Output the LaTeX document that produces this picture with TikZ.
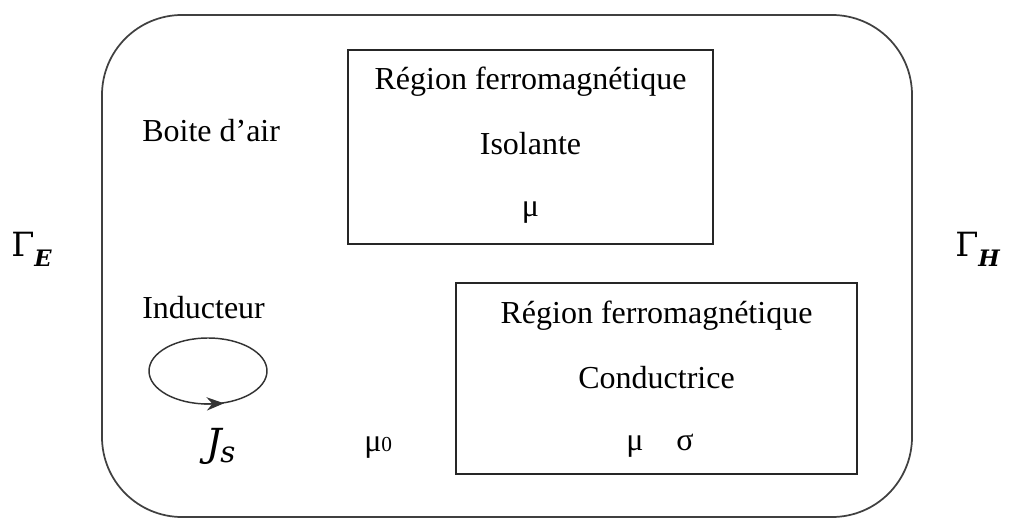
\documentclass[tikz,border=0pt]{standalone}
\usepackage{fontspec}
\setmainfont{Liberation Serif}
\newfontfamily\symf{DejaVu Serif}
\usetikzlibrary{arrows.meta}
\begin{document}
\begin{tikzpicture}[x=0.75pt,y=-0.75pt,
  frame/.style={draw=black!75, line width=1.3pt},
  region/.style={draw=black!85, line width=1.4pt, inner sep=0pt},
  txt/.style={font=\fontsize{24}{27}\selectfont, inner sep=0pt, anchor=base},
  bnd/.style={font=\fontsize{25}{28}\symf, inner sep=0pt, anchor=base west},
  loop/.style={draw=black!80, line width=1.1pt}]
\useasboundingbox (0,0) rectangle (1009,520);
% outer air box
\draw[frame, rounded corners=60pt] (102,15) rectangle (912,517);
% upper region
\node[region, minimum width=273.75pt, minimum height=145.5pt] (iso) at (530.5,147) {};
\node[txt] (iso1) at (530.5,90) {Région ferromagnétique};
\node[txt] (iso2) at (530.5,155) {Isolante};
\node[txt] (iso3) at (530.5,217) {μ};
% lower region
\node[region, minimum width=300.75pt, minimum height=143.25pt] (cond) at (656.5,378.5) {};
\node[txt] (cond1) at (656.5,323) {Région ferromagnétique};
\node[txt] (cond2) at (656.5,388) {Conductrice};
\node[txt] (cond3) at (635,450) {μ};
\node[txt] (cond4) at (685,450) {σ};
% air box labels
\node[txt, anchor=base west] (air) at (142,142) {Boite d’air};
\node[txt, anchor=base west] (ind) at (142,318) {Inducteur};
\node[txt, anchor=base west] (mu0) at (364,451) {μ{\fontsize{16}{16}\selectfont 0}};
% inductor loop
\draw[loop] (208,371) ellipse [x radius=59, y radius=33];
\coordinate (arA) at (204,404);
\coordinate (arB) at (224,403.3);
\draw[loop, -{Stealth[length=13pt,width=10pt]}] (arA) -- (arB);
\node[font=\fontsize{29}{32}\symf, inner sep=0pt, anchor=base west] (js) at (206,456) {\itshape J\kern-1pt\raisebox{-5pt}{\fontsize{22}{22}\selectfont s}};
% boundaries
\node[bnd] (gE) at (11,256) {Γ\raisebox{-8pt}{\fontsize{17}{17}\selectfont\itshape\bfseries E}};
\node[bnd] (gH) at (955,256) {Γ\raisebox{-8pt}{\fontsize{17}{17}\selectfont\itshape\bfseries H}};
\end{tikzpicture}
\end{document}
